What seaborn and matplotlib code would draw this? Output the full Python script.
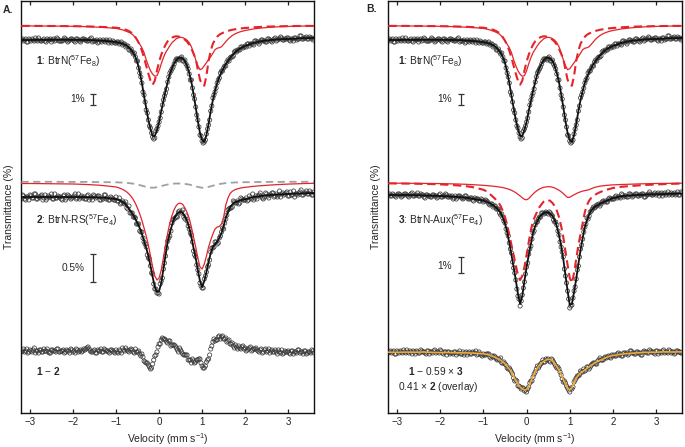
import numpy as np
import matplotlib
matplotlib.use('Agg')
import matplotlib.pyplot as plt
import seaborn as sns

sns.set_style('ticks')
plt.rcParams['font.family'] = ['Liberation Sans', 'DejaVu Sans']
plt.rcParams['mathtext.fontset'] = 'custom'
plt.rcParams['mathtext.rm'] = 'Liberation Sans'
plt.rcParams['mathtext.it'] = 'Liberation Sans:italic'
plt.rcParams['mathtext.bf'] = 'Liberation Sans:bold'

# ---------------- data (absorption depth, display units; positive = down) ----
# fit grid: coarse in wings, fine across the doublet
S1_FIT = [1.0,1.0,0.9,0.9,0.8,0.8,0.8,0.9,1.1,1.5,2.1,
          3.1,3.5,4.0,4.7,5.5,6.8,8.5,11,14,18,
          24,33,44,57,69,81,90,97,97,91,
          83,72,62,52,43,35,29,24.5,21,19,
          18.5,19.5,22,27,34,43,55,68,82,94,
          101,103,96,85,72,61,52,44,38,33,
          29,25,22,19,16.5,14,12,10.5,9,8,
          7,
          3.8,2.0,1.0,0.3,0.0,-0.4,-0.8,-1.0]
S1_RED = [0.2,0.2,0.3,0.3,0.4,0.5,0.6,0.8,1.1,1.5,2.0,
          2.7,3.1,3.6,4.2,5.0,5.8,6.7,7.8,9.5,12,
          15,18.5,22,27,34,40,45,48.5,50.5,50,
          45,38,32,27,23.5,20,17,15,13,12,
          11.6,12,13,14.5,17,21,27,34,40,44,
          43,40,37,34,31,27.5,24,22.5,22,21,
          18.5,16,13.5,11.5,9.8,8.5,7.5,6.6,5.9,5.3,
          4.8,
          3.2,2.2,1.5,1.0,0.7,0.5,0.3,0.2]
S1_DASH = [0.2,0.2,0.2,0.3,0.3,0.4,0.5,0.6,0.8,1.1,1.5,
           2.0,2.3,2.7,3.1,3.7,4.4,5.4,6.8,8.7,11.5,
           15,19.5,25,32,40,48,55,59,55,45,
           36,29,23.5,19,15.5,13.5,12,11,10.6,10.8,
           11.5,12.5,14,16,19,23,28,33,44,54,
           59,60,50,35,25,18,14,11,9,7.8,
           6.8,6,5.2,4.6,4.1,3.7,3.3,3.0,2.7,2.5,
           2.3,
           1.6,1.1,0.8,0.6,0.4,0.3,0.2,0.2]
S2_FIT = [2.0,2.0,2.0,2.0,2.0,2.0,2.0,2.0,2.2,2.5,3.0,
          4.2,4.8,5.6,6.7,8.5,11,14,17,20,24,
          28.5,33,39,46,53,61,71,82,92,97,
          96,88,74,60,47,38,30,23.5,19.5,17.5,
          16.8,18,21.5,26,33,42,53,63,75,86,
          92,86,77,67,58,52,49,46.5,43,38,
          31,23,17,12.5,9.5,7.8,6.6,5.8,5.2,4.7,
          4.2,
          2.0,0.8,0.0,-0.6,-1.0,-1.4,-1.8,-2.0]
S2_RED = [0.5,0.5,0.6,0.7,0.8,0.9,1.0,1.3,1.7,2.2,3.0,
          4.0,4.6,5.4,6.4,7.6,9.0,11,13.5,16.5,20.5,
          25.5,31,37.5,45,53,62,73,84,93,97,
          95,87,75,62,50,40,32.5,26.5,22.5,20.5,
          20.2,21.5,25,29.5,35.5,44,54,64,75,84,
          86,81,73,64,57,51,46,44,43.5,41,
          34,22,15,10.5,8.3,7.0,6.1,5.5,5.0,4.6,
          4.3,
          3.3,2.6,2.0,1.5,1.1,0.8,0.5,0.3]
S2_GRAY = [0.1,0.1,0.1,0.1,0.1,0.2,0.2,0.2,0.3,0.4,0.5,
           0.6,0.7,0.8,0.9,1.0,1.2,1.4,1.7,2.0,2.4,
           2.9,3.4,4.0,4.6,5.1,5.6,5.9,6.0,5.9,5.5,
           5.0,4.4,3.8,3.3,2.8,2.4,2.1,1.9,1.8,1.8,
           1.9,2.0,2.2,2.5,2.9,3.4,4.0,4.6,5.2,5.7,
           6.0,6.0,5.7,5.2,4.6,4.0,3.4,2.9,2.4,2.0,
           1.7,1.4,1.2,1.0,0.9,0.8,0.7,0.6,0.6,0.5,
           0.5,
           0.4,0.3,0.2,0.2,0.1,0.1,0.1,0.1]
S3_FIT = [1.0,1.0,1.0,1.2,1.4,1.7,2.0,2.4,3.0,3.8,5.0,
          6.5,7.3,8.2,9.3,10.5,12,13.8,16,19,23.5,
          29.5,38,49,61,73,86,100,110,102,87,
          73,61,50,39,32,27,23,20.5,19,18.3,
          18.5,19.5,22,26,32,41,52,65,81,97,
          111,110,98,85,70,56,44,33,26,20.5,
          16.5,14,12.2,11,9.8,8.7,7.7,6.8,5.9,5.0,
          4.2,
          2.2,1.4,0.9,0.5,0.3,0.0,-0.3,-0.5]
S3_DASH = [0.4,0.5,0.6,0.7,0.9,1.1,1.4,1.8,2.4,3.2,4.5,
           6.8,7.8,9.2,11,13,15,17,19.5,23,28,
           34,42,52,62,72,82,92,97,93,84,
           72,59,47,38,33,28,24,21,18.5,17.2,
           17,18,20,23,27.5,34,43,54,68,82,
           95,100,90,76,62,51,40,29,22,17.5,
           14.8,13,11.5,10.2,9.2,8.3,7.5,6.8,6.2,5.6,
           5.0,
           3.8,3.0,2.4,1.9,1.5,1.1,0.8,0.5]
S3_RED = [0.2,0.2,0.3,0.3,0.4,0.5,0.6,0.8,1.0,1.3,1.8,
          2.3,2.5,2.7,2.9,3.1,3.3,3.6,3.9,4.2,4.6,
          5.1,5.7,6.4,7.3,8.4,9.7,11.3,13,14.8,16.3,
          16.8,15.5,13.2,11,9,7.3,6,5,4.3,3.9,
          3.7,3.8,4.2,5,6,7.2,8.7,10.5,12.6,14.5,
          14.2,13,11.8,10.6,9.6,8.8,8.1,7.6,7.2,6.6,
          5.7,4.8,4.1,3.6,3.2,2.9,2.6,2.4,2.2,2.0,
          1.9,
          1.5,1.2,0.9,0.7,0.5,0.4,0.3,0.2]
DB_OVERLAY = [0.2,0.4,0.1,0.3,0.0,0.4,0.6,0.5,0.8,0.9,1.2,
              1.8,2.2,2.6,3.2,4.0,5.0,6.0,7.0,8.3,9.8,
              11.8,14.3,17,20.3,24.5,28.5,32,35,37,38,
              37.5,34.5,29.5,24,19.5,16,13,10.8,9.4,8.0,
              7.3,7.5,9.0,11.5,14.5,18,22.5,27.5,32,36,
              38,35.5,30.5,26,23,21,19.5,18,16.2,14.7,
              13.2,11.8,10.5,9.4,8.4,7.4,6.4,5.4,4.6,4.0,
              3.5,
              2.2,1.3,0.8,0.3,0.2,-0.2,0.0,-0.2]

# measured points, even channels (-3.2 ... 3.6, step 0.05)
S1_DATA = [1,2,0,3,1,0,2,1,-1,2, 1,2,0,1,3,0,1,0,2,2, -1,1,2,0,1,3,0,2,1,0,
           1,2,0,3,2,1,3,2,1,3, 2,1,4,3,
           4,3,4,6,5,7,11,10,15,18, 22,34,44,56,71,81,89,98,99,90,
           83,73,61,54,43,34,30,25,20,20, 19,22,21,27,35,41,56,68,81,96,
           102,103,95,86,72,59,53,44,39,32, 29,27,21,19,18,13,13,11,8,9, 7,
           5,7,5,6,2,3,3,1,2,3, 0,2,1,-1,1,0,-1,1,0,-1, 2,0,-1,1,0,-3,0,-1,0,-2, -1,0]
S2_DATA = [4,1,5,2,0,3,-1,4,2,1, 5,0,3,2,-1,4,3,1,2,5, 0,3,1,4,2,-1,3,4,1,2,
           4,0,3,5,1,2,1,5,4,0, 3,5,3,5,
           2,6,9,6,9,13,11,18,22,23, 29,36,37,47,52,63,71,79,94,98,
           99,86,74,61,46,41,28,24,22,17, 18,15,24,26,34,40,56,62,75,88,
           93,84,77,70,57,53,47,49,43,37, 34,24,15,13,12,7,8,9,3,5, 5,
           6,1,4,5,1,1,-2,3,2,-1, 3,0,-2,1,2,-4,-1,0,-2,1, -3,0,2,-1,-2,-5,0,-2,-1,-4, 0,-3]
DA_DATA = [1,-2,0,2,-1,1,-3,0,2,-1, 1,0,-2,2,-1,0,1,-2,1,0, 2,-1,0,-2,1,2,-1,0,1,-2,
           -2,-4,0,1,-1,2,0,-2,1,-1, 0,2,-1,1,
           -1,2,0,-3,0,-1,1,-2,1,-2, 1,3,3,10,12,14,18,13,5,1,
           -7,-11,-12,-11,-8,-10,-6,-6,-3,1, -1,3,4,4,9,12,10,11,9,8,
           15,17,11,8,-2,-9,-10,-11,-15,-14, -12,-13,-10,-7,-8,-3,-4,-5,-2,-5, -3,
           -1,-3,0,-2,-3,0,-1,2,-1,1, -2,0,1,-1,3,1,-1,2,1,0, 3,0,1,2,-1,1,3,0,2,1, -1,2]
S3_DATA = [1,2,0,2,1,0,3,1,0,2, 1,-1,2,1,2,0,1,4,1,2, 3,1,2,3,0,3,2,1,3,3,
           5,2,3,2,4,4,2,5,4,6, 4,5,7,5,
           8,6,8,11,10,12,15,15,21,24, 29,39,49,59,74,86,102,112,101,88,
           73,60,52,39,31,28,23,19,20,18, 20,19,22,28,31,41,53,63,82,97,
           114,111,97,85,72,55,45,33,24,22, 17,13,13,11,12,8,8,8,5,5, 5,
           3,4,3,0,3,2,3,0,3,1, 0,2,1,0,3,1,-2,1,0,1, -1,0,2,-1,0,1,-1,0,1,-2, 1,-1]
DB_DATA = [1,-1,0,2,-1,1,0,-2,1,0, -1,2,0,-1,1,-2,0,1,-1,2, 0,-1,1,0,-2,1,0,3,0,1,
           2,0,1,-1,2,3,0,1,2,0, 1,3,0,3,
           2,3,2,5,4,4,7,7,6,11, 12,16,16,20,26,28,34,35,36,39,
           40,35,29,25,20,14,14,11,10,7, 7,10,8,12,16,17,23,30,31,36,
           40,37,30,26,24,19,20,19,15,17, 13,11,12,9,6,8,6,6,4,6, 4,
           4,2,3,4,1,2,3,-1,1,2, 0,1,3,0,0,1,-2,0,1,-1, 2,0,-1,1,0,-2,1,0,1,-1, 0,1]

# measured points, odd channels (-3.175 ... 3.575, step 0.05)
S1_ODD = [0,1,3,0,2,1,-1,2,1,2, 0,3,1,0,1,2,-1,2,2,1, 0,3,1,0,2,0,1,3,0,1,
          2,1,-1,2,2,4,1,3,2,1, 4,3,2,4,
          3,5,3,5,8,7,11,13,14,22, 29,38,53,63,74,87,94,100,92,87,
          79,66,57,50,38,32,28,22,20,21, 18,22,25,30,41,49,60,76,88,97,
          104,101,90,81,67,56,49,41,34,32, 27,23,22,18,17,12,11,11,8,8,
          8,5,5,5,2,3,5,1,2,3, 0,1,3,0,2,0,-2,1,0,-1, 1,0,2,-1,0,-3,0,-1,-2,0, -1,1]
S2_ODD = [0,4,2,5,1,3,-1,4,2,0, 3,5,1,2,4,-1,3,2,4,1, 5,0,2,3,1,4,-1,2,3,4,
          1,5,2,0,3,1,5,3,0,4, 5,2,4,5,
          6,3,8,8,7,14,18,18,22,29, 29,37,43,49,60,64,78,89,94,98,
          89,83,68,53,43,36,25,23,22,16, 17,22,21,31,38,47,60,70,79,91,
          93,81,72,65,53,52,47,48,41,33, 28,20,14,13,6,8,6,8,4,5,
          3,5,3,-1,3,4,0,1,4,-2, 1,0,-2,2,-1,0,2,-2,-1,-3, 1,0,-4,-1,0,-3,0,-2,-4,-1, -2,0]
DA_ODD = [0,1,-2,1,0,-1,2,0,-1,1, -2,0,1,2,-1,0,-2,1,0,-1, 1,0,2,-1,0,-2,1,-1,0,-1,
          -3,-2,1,0,2,-1,0,1,-2,0, 1,-1,0,2,
          1,-1,2,-1,-3,0,-1,-1,2,1, 0,5,6,11,12,16,17,9,4,-4,
          -7,-13,-12,-9,-10,-5,-6,-5,-1,-3, 1,4,4,9,9,8,12,9,8,12,
          17,15,9,4,-5,-12,-11,-14,-12,-15, -12,-9,-11,-7,-5,-6,-2,-3,-4,-2,
          0,-2,-4,-1,-2,-1,1,-2,1,-2, 0,2,-1,1,1,-1,2,3,0,1, 2,0,3,1,-1,2,1,0,3,1, 2,0]
S3_ODD = [0,2,1,3,0,1,2,0,1,3, 0,2,1,-1,2,1,3,1,2,3, 1,2,4,1,3,2,0,3,2,2,
          4,5,2,3,5,2,4,5,4,7, 5,5,7,6,
          7,7,10,10,13,12,15,19,20,27, 35,42,55,68,79,95,105,107,94,80,
          69,55,45,37,28,25,23,19,19,19, 18,21,26,28,37,48,58,75,89,105,
          112,104,93,76,63,51,38,30,25,18, 15,14,11,10,10,7,7,8,4,5,
          5,2,3,4,1,2,3,0,1,2, 0,2,1,0,3,1,0,0,1,-1, 0,2,-1,0,1,-2,0,1,-1,0, 1,-2]
DB_ODD = [0,1,-1,2,0,-1,1,0,-2,1, 0,-1,2,0,1,-1,0,2,-1,0, 1,-2,0,1,-1,2,0,0,2,1,
          0,3,1,2,0,1,3,0,2,1, -1,2,2,4,
          3,2,2,6,5,5,8,8,11,10, 13,17,18,22,29,29,34,37,36,38,
          37,31,29,22,17,16,12,8,10,8, 9,7,10,14,15,20,27,29,34,38,
          36,35,28,24,23,20,17,18,15,15, 12,11,12,8,8,8,5,5,5,3,
          3,4,1,2,4,1,1,2,-1,1, 2,0,1,3,-1,0,1,-1,0,2, -1,0,1,-2,0,1,-1,0,2,-1, 0,1]

# baselines of the stacked traces (display units)
S1_BASE, S1_RED_BASE = 408.0, 421.3
S2_BASE, S2_RED_BASE, S2_GRAY_BASE = 252.0, 264.0, 265.3
DA_BASE = 96.0
S3_BASE, S3_RED_BASE = 253.0, 264.0
DB_BASE = 95.0
# scale bars: display units per stated percentage
BAR_S1_1PCT = 11.0
BAR_S2_05PCT = 28.0
BAR_S3_1PCT = 16.7

XTICKS = [-3, -2, -1, 0, 1, 2, 3]

FV = np.concatenate([np.linspace(-3.2, -1.2, 11), np.linspace(-1.0, 2.0, 61),
                     np.linspace(2.2, 3.6, 8)])
DV = np.concatenate([np.linspace(-3.2, 3.6, 137), np.linspace(-3.175, 3.575, 136)])

RED = '#e3242b'
DATA_EC = '#3c3c3c'
GRAY = '#a0a0a0'
ORANGE = '#f0a838'
FS = 7.3

fig = plt.figure(figsize=(6.85, 4.47), dpi=100)
axA = fig.add_axes([21/685, 34.5/447, 293/685, 411.5/447])
axB = fig.add_axes([388/685, 34.5/447, 294/685, 411.5/447])


def pts(ax, even, odd, base):
    d = np.concatenate([np.asarray(even, float), np.asarray(odd, float)])
    sns.scatterplot(x=DV, y=base - d, ax=ax, s=9, marker='o', linewidth=0.55,
                    legend=False, zorder=2)
    c = ax.collections[-1]
    c.set_facecolor('none')
    c.set_edgecolor(DATA_EC)


def curve(ax, vals, base, color, lw, ls='-', z=3):
    sns.lineplot(x=FV, y=base - np.asarray(vals, float), ax=ax, color=color,
                 linewidth=lw, linestyle=ls, estimator=None, sort=False,
                 legend=False, zorder=z)


def bar(ax, x, yc, length):
    ax.errorbar([x], [yc], yerr=[length / 2], fmt='none', ecolor='#333333',
                elinewidth=0.9, capsize=2.2, capthick=0.9, zorder=4)


DASHED = (0, (4, 2.2))

for ax, xl in ((axA, -2.86), (axB, -2.97)):
    # spectrum 1 (both panels)
    curve(ax, S1_RED, S1_RED_BASE, RED, 0.9)
    curve(ax, S1_DASH, S1_RED_BASE, RED, 1.5, DASHED)
    pts(ax, S1_DATA, S1_ODD, S1_BASE)
    curve(ax, S1_FIT, S1_BASE, '#111111', 1.3, z=4)
    ax.text(xl, 386, r'$\mathbf{1}$: BtrN($^{57}$Fe$_{8}$)', fontsize=FS,
            ha='left', va='center')

# panel A
curve(axA, S2_GRAY, S2_GRAY_BASE, GRAY, 1.3, (0, (4, 2.5)))
curve(axA, S2_RED, S2_RED_BASE, RED, 0.9)
pts(axA, S2_DATA, S2_ODD, S2_BASE)
curve(axA, S2_FIT, S2_BASE, '#111111', 1.3, z=4)
pts(axA, DA_DATA, DA_ODD, DA_BASE)
axA.text(-2.86, 227, r'$\mathbf{2}$: BtrN-RS($^{57}$Fe$_{4}$)', fontsize=FS,
         ha='left', va='center')
axA.text(-2.86, 76.3, r'$\mathbf{1}$ − $\mathbf{2}$', fontsize=FS,
         ha='left', va='center')
axA.text(-1.72, 348, '1%', fontsize=FS, ha='right', va='center')
bar(axA, -1.53, 347.5, BAR_S1_1PCT)
axA.text(-1.72, 179, '0.5%', fontsize=FS, ha='right', va='center')
bar(axA, -1.53, 179, BAR_S2_05PCT)

# panel B
curve(axB, S3_RED, S3_RED_BASE, RED, 0.9)
curve(axB, S3_DASH, S3_RED_BASE, RED, 1.5, DASHED)
pts(axB, S3_DATA, S3_ODD, S3_BASE)
curve(axB, S3_FIT, S3_BASE, '#111111', 1.3, z=4)
pts(axB, DB_DATA, DB_ODD, DB_BASE)
curve(axB, DB_OVERLAY, DB_BASE, ORANGE, 1.2, z=4)
axB.text(-2.97, 227, r'$\mathbf{3}$: BtrN-Aux($^{57}$Fe$_{4}$)', fontsize=FS,
         ha='left', va='center')
axB.text(-1.74, 348, '1%', fontsize=FS, ha='right', va='center')
bar(axB, -1.53, 347.5, BAR_S1_1PCT)
axB.text(-1.74, 181, '1%', fontsize=FS, ha='right', va='center')
bar(axB, -1.53, 182, BAR_S3_1PCT)
axB.text(-2.74, 76.3, r'$\mathbf{1}$ − 0.59 × $\mathbf{3}$', fontsize=FS,
         ha='left', va='center')
axB.text(-2.97, 60.3, r'0.41 × $\mathbf{2}$ (overlay)', fontsize=FS,
         ha='left', va='center')

for ax in (axA, axB):
    ax.set_xlim(-3.21, 3.6)
    ax.set_ylim(34.5, 446)
    ax.set_xticks(XTICKS)
    ax.set_yticks([])
    ax.tick_params(axis='x', direction='in', length=3, width=0.9, top=True,
                   labelsize=7, pad=3, colors='#222222')
    for sp in ax.spines.values():
        sp.set_linewidth(1.0)
        sp.set_color('#111111')
    ax.set_xlabel(r'Velocity (mm s$^{-1}$)', fontsize=7.5, labelpad=3)
    ax.set_ylabel('Transmittance (%)', fontsize=7.5, labelpad=5)

fig.text(3/685, 1 - 10/447, 'A.', fontsize=7.5, fontweight='bold',
         ha='left', va='center')
fig.text(366/685, 1 - 9/447, 'B.', fontsize=7.5, fontweight='bold',
         ha='left', va='center')

fig.savefig('out.png', dpi=100)
